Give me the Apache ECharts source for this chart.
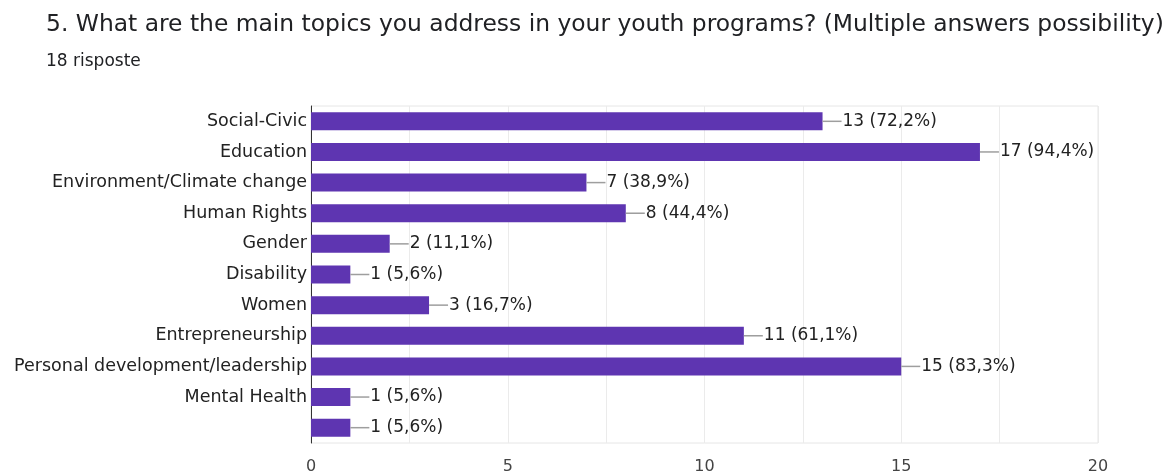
<!DOCTYPE html>
<html>
<head>
<meta charset="utf-8">
<script src="https://cdn.jsdelivr.net/npm/echarts@6/dist/echarts.min.js"></script>
<style>
html,body{margin:0;padding:0;background:#fff;}
#chart{width:1168px;height:475px;}
</style>
</head>
<body>
<div id="chart"></div>
<script>
const titleText = "5. What are the main topics you address in your youth programs? (Multiple answers possibility)";
const subText = "18 risposte";
const totalResponses = 18;
const categories = ["Social-Civic","Education","Environment/Climate change","Human Rights","Gender","Disability","Women","Entrepreneurship","Personal development/leadership","Mental Health",""];
const counts = [13,17,7,8,2,1,3,11,15,1,1];
const tickValues = [0,5,10,15,20];

const F = 'DejaVu Sans';
const chart = echarts.init(document.getElementById('chart'));
chart.setOption({
  backgroundColor:'#fff',
  animation:false,
  title:{
    text:titleText,
    subtext:subText,
    left:41, top:8,
    itemGap:17,
    textStyle:{fontFamily:F,fontSize:23.4,fontWeight:'normal',color:'#202124'},
    subtextStyle:{fontFamily:F,fontSize:17,color:'#202124'}
  },
  grid:{left:311,right:70,top:106,bottom:32,show:true,borderColor:'#e6e6e6',borderWidth:1},
  xAxis:{
    type:'value',min:0,max:20,interval:2.5,
    axisLine:{show:false},axisTick:{show:false},
    splitLine:{lineStyle:{color:'#ebebeb'}},
    axisLabel:{
      fontFamily:F,fontSize:16,color:'#444',margin:16,
      formatter:function(v){return tickValues.indexOf(v)>=0?String(v):'';}
    }
  },
  yAxis:{
    type:'category',data:categories,inverse:true,
    axisLine:{lineStyle:{color:'#333',width:1}},
    axisTick:{show:false},
    axisLabel:{fontFamily:F,fontSize:17.5,color:'#222',margin:4}
  },
  series:[{
    type:'bar',data:counts,barWidth:18,
    itemStyle:{color:'#5e35b1'},
    label:{
      show:true,position:'right',distance:0,
      formatter:function(p){
        const pct=(p.value/totalResponses*100).toFixed(1).replace('.',',');
        return '{ln|}{v|'+p.value+' ('+pct+'%)}';
      },
      rich:{
        ln:{width:19,height:1.5,backgroundColor:'#9e9e9e'},
        v:{fontFamily:F,fontSize:17,color:'#222',padding:[0,0,0,1]}
      }
    }
  }]
});
</script>
</body>
</html>
